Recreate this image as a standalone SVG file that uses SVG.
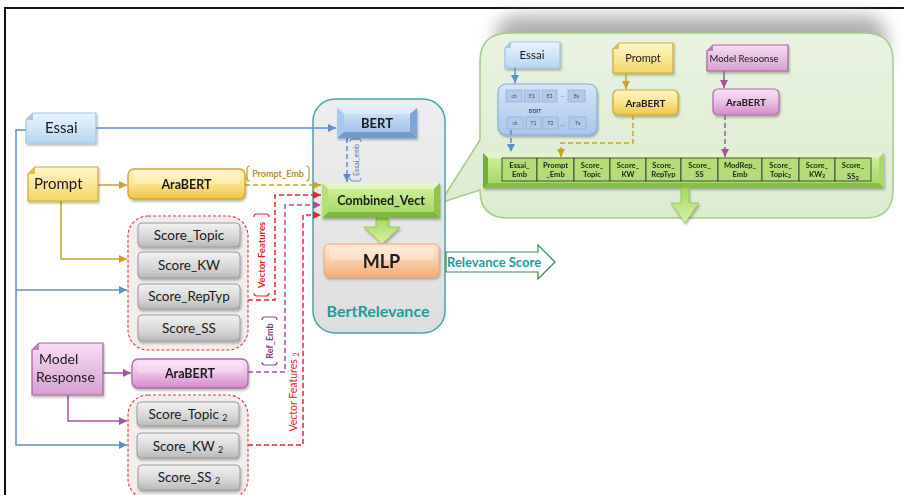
<svg xmlns="http://www.w3.org/2000/svg" width="904" height="495" viewBox="0 0 904 495">
  <defs>
    <style>
      .t { font-family: Lato, "Liberation Sans", sans-serif; fill: #1a1a1a; }
      .b { font-weight: bold; }
      .mid { text-anchor: middle; }
      .doc { stroke-width: 1.2; }
      .score { fill: url(#gGray); stroke: #9a9a9a; stroke-width: 1; }
      .grp { fill: #f1eded; stroke: #d9383a; stroke-width: 1.1; stroke-dasharray: 3 2; }
      .cell { fill: #b4dc78; stroke: #2b2b2b; stroke-width: 0.8; }
      .cellt { font-family: Lato, "Liberation Sans", sans-serif; font-size: 7.6px; font-weight: bold; fill: #1c2a10; text-anchor: middle; }
      .tiny { font-family: Lato, "Liberation Sans", sans-serif; font-size: 5px; fill: #3a4a6a; text-anchor: middle; }
      .tcell { fill: #b3c9ea; stroke: #8aa7d3; stroke-width: 0.6; }
      .blue { stroke: #5b8fd0; stroke-width: 1.5; fill: none; }
      .gold { stroke: #c9a227; stroke-width: 1.5; fill: none; }
      .purp { stroke: #a0559c; stroke-width: 1.5; fill: none; }
      .red { stroke: #e8262b; stroke-width: 1.5; fill: none; stroke-dasharray: 5 3; }
      .dash { stroke-dasharray: 5 3; }
    </style>
    <linearGradient id="gBlueDoc" x1="0" y1="0" x2="0" y2="1"><stop offset="0" stop-color="#eaf4fd"/><stop offset="1" stop-color="#b9d6f1"/></linearGradient>
    <linearGradient id="gYellowDoc" x1="0" y1="0" x2="0" y2="1"><stop offset="0" stop-color="#fff8cc"/><stop offset="1" stop-color="#f4d564"/></linearGradient>
    <linearGradient id="gPurpleDoc" x1="0" y1="0" x2="0" y2="1"><stop offset="0" stop-color="#f6def3"/><stop offset="1" stop-color="#d7a0d1"/></linearGradient>
    <linearGradient id="gGold" x1="0" y1="0" x2="0" y2="1"><stop offset="0" stop-color="#fff6c6"/><stop offset="0.5" stop-color="#fbe48a"/><stop offset="1" stop-color="#eec54a"/></linearGradient>
    <linearGradient id="gPurp" x1="0" y1="0" x2="0" y2="1"><stop offset="0" stop-color="#fae2f7"/><stop offset="0.5" stop-color="#ecbfe6"/><stop offset="1" stop-color="#d28bcb"/></linearGradient>
    <linearGradient id="gBert" x1="0" y1="0" x2="0" y2="1"><stop offset="0" stop-color="#c9ddf5"/><stop offset="1" stop-color="#a3c3ea"/></linearGradient>
    <linearGradient id="gGreen" x1="0" y1="0" x2="0" y2="1"><stop offset="0" stop-color="#cdee98"/><stop offset="1" stop-color="#a6d965"/></linearGradient>
    <linearGradient id="gOrange" x1="0" y1="0" x2="0" y2="1"><stop offset="0" stop-color="#fde6d2"/><stop offset="0.5" stop-color="#fbcfa9"/><stop offset="1" stop-color="#f3ac77"/></linearGradient>
    <linearGradient id="gGray" x1="0" y1="0" x2="0" y2="1"><stop offset="0" stop-color="#f2f2f2"/><stop offset="0.6" stop-color="#d6d6d6"/><stop offset="1" stop-color="#b9b9b9"/></linearGradient>
    <linearGradient id="gCont" x1="0" y1="0" x2="0" y2="1"><stop offset="0" stop-color="#eeeeee"/><stop offset="1" stop-color="#dedede"/></linearGradient>
    <linearGradient id="gInset" x1="0" y1="0" x2="0" y2="1"><stop offset="0" stop-color="#e9f3e1"/><stop offset="1" stop-color="#dcebd0"/></linearGradient>
    <linearGradient id="gInBert" x1="0" y1="0" x2="0" y2="1"><stop offset="0" stop-color="#d6e6f8"/><stop offset="1" stop-color="#a9c6ea"/></linearGradient>
    <linearGradient id="gArrow" x1="0" y1="0" x2="0" y2="1"><stop offset="0" stop-color="#a8d860"/><stop offset="1" stop-color="#d8f2a8"/></linearGradient>
    <filter id="sh" x="-20%" y="-20%" width="140%" height="160%">
      <feDropShadow dx="1" dy="2" stdDeviation="1.2" flood-color="#000" flood-opacity="0.28"/>
    </filter>
    <filter id="haze" x="-20%" y="-50%" width="140%" height="200%">
      <feGaussianBlur stdDeviation="9"/>
    </filter>
    <marker id="aBlue" markerUnits="userSpaceOnUse" markerWidth="9" markerHeight="8" refX="8" refY="4" orient="auto"><path d="M0,0 L8,4 L0,8 z" fill="#5b8fd0"/></marker>
    <marker id="aGold" markerUnits="userSpaceOnUse" markerWidth="9" markerHeight="8" refX="8" refY="4" orient="auto"><path d="M0,0 L8,4 L0,8 z" fill="#c9a227"/></marker>
    <marker id="aPurp" markerUnits="userSpaceOnUse" markerWidth="9" markerHeight="8" refX="8" refY="4" orient="auto"><path d="M0,0 L8,4 L0,8 z" fill="#a0559c"/></marker>
    <marker id="aRed" markerUnits="userSpaceOnUse" markerWidth="9" markerHeight="8" refX="8" refY="4" orient="auto"><path d="M0,0 L8,4 L0,8 z" fill="#e8262b"/></marker>
  </defs>

  <rect width="904" height="495" fill="#ffffff"/>
  <!-- page frame -->
  <rect x="5" y="8" width="930" height="510" fill="none" stroke="#111" stroke-width="2"/>

  <!-- zoomed-in detail of the combined vector (callout) -->
  <g id="detail">
    <rect x="496" y="16" width="390" height="60" rx="20" fill="#9a9a9a" opacity="0.8" filter="url(#haze)"/>
    <path d="M510,33 H865 Q893,33 893,61 V190 Q893,218 865,218 H508 Q480,218 480,190 L440,203 L480,140 V61 Q480,33 510,33 Z" fill="url(#gInset)" stroke="#a5cc86" stroke-width="1.5"/>

    <g id="d-essai" filter="url(#sh)">
      <path class="doc" d="M511,42 H560 V68 H505 V48 Z" fill="url(#gBlueDoc)" stroke="#9ec5e8"/>
      <path d="M505,48 L511,48 L511,42 Z" fill="#a9c9ea"/>
      <text class="t mid" x="532" y="59" font-size="11.5">Essai</text>
    </g>

    <g id="d-bert" filter="url(#sh)">
      <rect x="498" y="84" width="99" height="51" rx="8" fill="url(#gInBert)" stroke="#7ea6d8" stroke-width="1"/>
      <rect class="tcell" x="506" y="90" width="16" height="12"/><text class="tiny" x="514" y="98">ch</text>
      <rect class="tcell" x="524" y="90" width="16" height="12"/><text class="tiny" x="532" y="98">E1</text>
      <rect class="tcell" x="542" y="90" width="15" height="12"/><text class="tiny" x="549.5" y="98">E2</text>
      <text class="tiny" x="563" y="97">…</text>
      <rect class="tcell" x="568" y="90" width="17" height="12"/><text class="tiny" x="576.5" y="98">E<tspan font-size="3.5">N</tspan></text>
      <text class="tiny" x="535" y="113" font-weight="bold" font-size="4.5" fill="#222">BERT</text>
      <rect class="tcell" x="507" y="117" width="16" height="12"/><text class="tiny" x="515" y="125">ch</text>
      <rect class="tcell" x="526" y="117" width="15" height="12"/><text class="tiny" x="533.5" y="125">T1</text>
      <rect class="tcell" x="543" y="117" width="15" height="12"/><text class="tiny" x="550.5" y="125">T2</text>
      <text class="tiny" x="563" y="126">…</text>
      <rect class="tcell" x="569" y="117" width="17" height="12"/><text class="tiny" x="577.5" y="125">T<tspan font-size="3.5">N</tspan></text>
    </g>

    <g id="d-prompt" filter="url(#sh)">
      <path class="doc" d="M619,43 H673 V73 H613 V49 Z" fill="url(#gYellowDoc)" stroke="#d0aa35"/>
      <path d="M613,49 L619,49 L619,43 Z" fill="#e0be4a"/>
      <text class="t mid" x="643" y="62" font-size="11">Prompt</text>
    </g>
    <g id="d-arabert1" filter="url(#sh)">
      <rect x="613" y="90" width="65" height="25" rx="5" fill="url(#gGold)" stroke="#d0a52a" stroke-width="1.2"/>
      <text class="t b mid" x="645.5" y="106.5" font-size="10">AraBERT</text>
    </g>

    <g id="d-model" filter="url(#sh)">
      <path class="doc" d="M713,45 H788 V71 H707 V51 Z" fill="url(#gPurpleDoc)" stroke="#a560a0"/>
      <path d="M707,51 L713,51 L713,45 Z" fill="#c07dba"/>
      <text class="t" x="709.5" y="61.5" font-size="9.5">Model Resoonse</text>
    </g>
    <g id="d-arabert2" filter="url(#sh)">
      <rect x="713" y="89" width="66" height="26" rx="5" fill="url(#gPurp)" stroke="#b069aa" stroke-width="1.2"/>
      <text class="t b mid" x="746" y="106" font-size="10">AraBERT</text>
    </g>

    <!-- feature bar -->
    <g id="d-vector" filter="url(#sh)">
      <rect x="483" y="153" width="401" height="35" fill="#9fd25c"/>
      <polygon points="483,153 884,153 879,158 488,158" fill="#e4f6c6"/>
      <polygon points="483,188 884,188 879,183 488,183" fill="#86bf44"/>
      <polygon points="483,153 488,158 488,183 483,188" fill="#74ad36"/>
      <polygon points="884,153 879,158 879,183 884,188" fill="#a9da68"/>
      <rect x="488" y="158" width="391" height="25" fill="url(#gGreen)"/>
      <rect class="cell" x="502" y="158" width="35" height="23"/>
      <rect class="cell" x="537" y="158" width="37" height="23"/>
      <rect class="cell" x="574" y="158" width="36" height="23"/>
      <rect class="cell" x="610" y="158" width="36" height="23"/>
      <rect class="cell" x="646" y="158" width="35" height="23"/>
      <rect class="cell" x="681" y="158" width="37" height="23"/>
      <rect class="cell" x="718" y="158" width="44" height="23"/>
      <rect class="cell" x="762" y="158" width="37" height="23"/>
      <rect class="cell" x="799" y="158" width="36" height="23"/>
      <rect class="cell" x="835" y="158" width="36" height="23"/>
      <text class="cellt" x="519.5" y="167.5">Essai_</text><text class="cellt" x="519.5" y="177">Emb</text>
      <text class="cellt" x="555.5" y="167.5">Prompt</text><text class="cellt" x="555.5" y="177">_Emb</text>
      <text class="cellt" x="592" y="167.5">Score_</text><text class="cellt" x="592" y="177">Topic</text>
      <text class="cellt" x="628" y="167.5">Score_</text><text class="cellt" x="628" y="177">KW</text>
      <text class="cellt" x="663.5" y="167.5">Score_</text><text class="cellt" x="663.5" y="177">RepTyp</text>
      <text class="cellt" x="699.5" y="167.5">Score_</text><text class="cellt" x="699.5" y="177">SS</text>
      <text class="cellt" x="740" y="167.5">ModRep_</text><text class="cellt" x="740" y="177">Emb</text>
      <text class="cellt" x="780.5" y="167.5">Score_</text><text class="cellt" x="780.5" y="177">Topic<tspan font-size="5" dy="1">2</tspan></text>
      <text class="cellt" x="817" y="167.5">Score_</text><text class="cellt" x="817" y="177">KW<tspan font-size="5" dy="1">2</tspan></text>
      <text class="cellt" x="853" y="168" font-size="9.5" font-weight="normal">Score_</text><text class="cellt" x="853" y="178.5" font-size="9.5" font-weight="normal">SS<tspan font-size="6" dy="1.5">2</tspan></text>
    </g>

    <polygon points="681,188 689,188 689,203 699,203 685,223 671,203 681,203" fill="url(#gArrow)" stroke="#8cc44c" stroke-width="0.8" filter="url(#sh)"/>
  </g>

  <!-- BertRelevance model container -->
  <g id="bertrelevance">
    <rect x="313" y="99" width="132" height="234" rx="22" fill="url(#gCont)" stroke="#3ea8a8" stroke-width="1.5"/>
    <text class="t b mid" x="378" y="317" font-size="16" style="fill:#1e9c9c">BertRelevance</text>
  </g>

  <!-- connectors -->
  <g id="connectors">
    <!-- Essai -->
    <path class="blue" d="M96,128 H336" marker-end="url(#aBlue)"/>
    <path class="blue" d="M26,130 H16 V445 H127" marker-end="url(#aBlue)"/>
    <path class="blue" d="M16,290 H127" marker-end="url(#aBlue)"/>
    <path class="blue dash" d="M347,138 V182" marker-end="url(#aBlue)"/>
    <!-- Prompt -->
    <path class="gold" d="M98,185 H127" marker-end="url(#aGold)"/>
    <path class="gold" d="M61,201 V259 H127" marker-end="url(#aGold)"/>
    <path class="gold dash" d="M245,185 H321" marker-end="url(#aGold)"/>
    <!-- Vector features -->
    <path class="red" d="M248,300 H275 V195 H321" marker-end="url(#aRed)"/>
    <path class="red" d="M248,445 H303 V215 H321" marker-end="url(#aRed)"/>
    <!-- Model response -->
    <path class="purp" d="M103,373 H131" marker-end="url(#aPurp)"/>
    <path class="purp" d="M68,395 V421 H127" marker-end="url(#aPurp)"/>
    <path class="purp dash" d="M248,372 H285 V205 H321" marker-end="url(#aPurp)"/>
    <!-- detail panel -->
    <path class="blue" d="M515,68 V83" marker-end="url(#aBlue)"/>
    <path class="blue dash" d="M511,130 V152" marker-end="url(#aBlue)"/>
    <path class="gold" d="M626,73 V89" marker-end="url(#aGold)"/>
    <path class="gold dash" d="M633,115 V143 H561 V157" marker-end="url(#aGold)"/>
    <path class="purp" d="M724,71 V88" marker-end="url(#aPurp)"/>
    <path class="purp dash" d="M725,115 V157" marker-end="url(#aPurp)"/>

    <!-- connector labels -->
    <g id="lbl-prompt-emb">
      <path d="M250,166 Q247,166 247,169 V178 Q247,181 250,181" fill="none" stroke="#c9a227" stroke-width="1.2"/>
      <path d="M306,166 Q309,166 309,169 V178 Q309,181 306,181" fill="none" stroke="#c9a227" stroke-width="1.2"/>
      <text class="t b mid" x="278" y="177" font-size="9" style="fill:#b8922a">Prompt_Emb</text>
    </g>
    <g id="lbl-vf" transform="translate(262,255) rotate(-90)">
      <path d="M-38,-8 Q-41,-8 -41,-5 V4 Q-41,7 -38,7" fill="none" stroke="#e8262b" stroke-width="1.2"/>
      <path d="M38,-8 Q41,-8 41,-5 V4 Q41,7 38,7" fill="none" stroke="#e8262b" stroke-width="1.2"/>
      <text class="t b mid" x="0" y="3" font-size="9.5" style="fill:#d81f24">Vector Features</text>
    </g>
    <g id="lbl-ref" transform="translate(270,341) rotate(-90)">
      <path d="M-21,-8 Q-24,-8 -24,-5 V4 Q-24,7 -21,7" fill="none" stroke="#8f4f8c" stroke-width="1.2"/>
      <path d="M21,-8 Q24,-8 24,-5 V4 Q24,7 21,7" fill="none" stroke="#8f4f8c" stroke-width="1.2"/>
      <text class="t b mid" x="0" y="3" font-size="9" style="fill:#7e3f7c">Ref_Emb</text>
    </g>
    <g id="lbl-vf2" transform="translate(293,392) rotate(-90)">
      <text class="t mid" x="0" y="3.5" font-size="10.5" style="fill:#d82328">Vector Features <tspan font-size="7" dy="2">2</tspan></text>
    </g>
    <g id="lbl-essai-emb" transform="translate(356,160) rotate(-90)">
      <path d="M-18,-6 Q-21,-6 -21,-4 V3 Q-21,5 -18,5" fill="none" stroke="#5b8fd0" stroke-width="1"/>
      <path d="M18,-6 Q21,-6 21,-4 V3 Q21,5 18,5" fill="none" stroke="#5b8fd0" stroke-width="1"/>
      <text class="t mid" x="0" y="2.5" font-size="7" style="fill:#3f6fae">Essai_emb</text>
    </g>

    <!-- Combined_Vect to MLP -->
    <polygon points="376,218 388,218 388,227 400,227 382,244 364,227 376,227" fill="url(#gArrow)" stroke="#8cc44c" stroke-width="0.8" filter="url(#sh)"/>
    <!-- output -->
    <polygon points="446,252 538,252 538,245 555,262 538,279 538,272 446,272" fill="#ffffff" stroke="#3d8b4f" stroke-width="1.2"/>
    <text class="t b" x="447" y="267" font-size="13" style="fill:#1e9c9c">Relevance Score</text>
  </g>

  <!-- inputs -->
  <g id="essai" filter="url(#sh)">
    <path class="doc" d="M33,113 H96 V143 H26 V120 Z" fill="url(#gBlueDoc)" stroke="#9ec5e8"/>
    <path d="M26,120 L33,120 L33,113 Z" fill="#a9c9ea"/>
    <text class="t" x="45" y="133" font-size="15">Essai</text>
  </g>
  <g id="prompt" filter="url(#sh)">
    <path class="doc" d="M35,167 H98 V201 H28 V174 Z" fill="url(#gYellowDoc)" stroke="#d0aa35"/>
    <path d="M28,174 L35,174 L35,167 Z" fill="#e0be4a"/>
    <text class="t" x="34" y="189" font-size="15">Prompt</text>
  </g>
  <g id="model-response" filter="url(#sh)">
    <path class="doc" d="M39,343 H103 V395 H32 V350 Z" fill="url(#gPurpleDoc)" stroke="#a560a0"/>
    <path d="M32,350 L39,350 L39,343 Z" fill="#c07dba"/>
    <text class="t" x="39" y="364" font-size="14">Model</text>
    <text class="t" x="36" y="382" font-size="14">Response</text>
  </g>

  <g id="arabert-prompt" filter="url(#sh)">
    <rect x="128" y="169" width="117" height="30" rx="6" fill="url(#gGold)" stroke="#d0a52a" stroke-width="1.3"/>
    <rect x="133" y="172" width="107" height="12" rx="4" fill="#ffffff" opacity="0.25"/>
    <text class="t b mid" x="186.5" y="189" font-size="12.5">AraBERT</text>
  </g>
  <g id="arabert-model" filter="url(#sh)">
    <rect x="132" y="359" width="116" height="29" rx="6" fill="url(#gPurp)" stroke="#b069aa" stroke-width="1.3"/>
    <rect x="137" y="362" width="106" height="11" rx="4" fill="#ffffff" opacity="0.25"/>
    <text class="t b mid" x="190" y="378" font-size="12.5">AraBERT</text>
  </g>

  <!-- handcrafted score groups -->
  <g id="scores-prompt">
    <rect class="grp" x="128" y="216" width="120" height="134" rx="20"/>
    <g filter="url(#sh)">
      <rect class="score" x="138" y="223" width="102" height="24" rx="4"/>
      <rect class="score" x="138" y="252" width="102" height="26" rx="4"/>
      <rect class="score" x="138" y="284" width="102" height="25" rx="4"/>
      <rect class="score" x="138" y="315" width="102" height="26" rx="4"/>
    </g>
    <text class="t mid" x="189" y="240" font-size="13.5">Score_Topic</text>
    <text class="t mid" x="189" y="270" font-size="13.5">Score_KW</text>
    <text class="t mid" x="189" y="301" font-size="13.5">Score_RepTyp</text>
    <text class="t mid" x="189" y="333" font-size="13.5">Score_SS</text>
  </g>
  <g id="scores-model">
    <rect class="grp" x="128" y="395" width="120" height="104" rx="20"/>
    <g filter="url(#sh)">
      <rect class="score" x="137" y="402" width="102" height="24" rx="4"/>
      <rect class="score" x="137" y="433" width="102" height="25" rx="4"/>
      <rect class="score" x="138" y="465" width="102" height="25" rx="4"/>
    </g>
    <text class="t mid" x="188" y="419" font-size="13.5">Score_Topic <tspan font-size="9" dy="2">2</tspan></text>
    <text class="t mid" x="188" y="451" font-size="13.5">Score_KW <tspan font-size="9" dy="2">2</tspan></text>
    <text class="t mid" x="189" y="482" font-size="13.5">Score_SS <tspan font-size="9" dy="2">2</tspan></text>
  </g>

  <!-- model internals -->
  <g id="bert" filter="url(#sh)">
    <rect x="337" y="108" width="80" height="30" fill="#8fb4e2"/>
    <polygon points="337,108 417,108 410,114 344,114" fill="#dceaf9"/>
    <polygon points="337,138 417,138 410,132 344,132" fill="#7199cf"/>
    <polygon points="337,108 344,114 344,132 337,138" fill="#aac8ee"/>
    <polygon points="417,108 410,114 410,132 417,138" fill="#7ea5d8"/>
    <rect x="344" y="114" width="66" height="18" fill="url(#gBert)"/>
    <text class="t b mid" x="377" y="128" font-size="13">BERT</text>
  </g>
  <g id="combined-vect" filter="url(#sh)">
    <rect x="322" y="183" width="118" height="35" fill="#9fd25c"/>
    <polygon points="322,183 440,183 434,189 328,189" fill="#e3f6c4"/>
    <polygon points="322,218 440,218 434,212 328,212" fill="#7fb83e"/>
    <polygon points="322,183 328,189 328,212 322,218" fill="#b5df78"/>
    <polygon points="440,183 434,189 434,212 440,218" fill="#8dc64a"/>
    <rect x="328" y="189" width="106" height="23" fill="url(#gGreen)"/>
    <text class="t b mid" x="381" y="205" font-size="12.5">Combined_Vect</text>
  </g>
  <g id="mlp" filter="url(#sh)">
    <rect x="324" y="244" width="115" height="33" rx="5" fill="url(#gOrange)" stroke="#eba877" stroke-width="1"/>
    <rect x="329" y="247" width="105" height="13" rx="4" fill="#ffffff" opacity="0.3"/>
    <text class="t b mid" x="381.5" y="267.5" font-size="18">MLP</text>
  </g>
</svg>
